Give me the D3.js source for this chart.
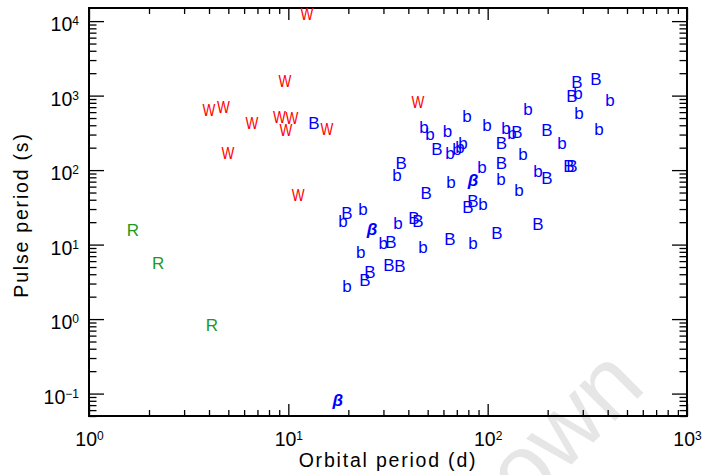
<!DOCTYPE html>
<html>
<head>
<meta charset="utf-8">
<script src="https://cdn.jsdelivr.net/npm/d3@7"></script>
<style>
body { margin: 0; background: #fff; }
svg { display: block; }
</style>
</head>
<body>
<script>

// orbital period (d) / pulse period (s), one pair of arrays per symbol
var windOrb   = [12.4, 9.62, 4.0, 4.73, 6.57, 9.03, 10.43, 9.73, 15.6, 4.98, 11.2, 44.7];
var windPulse = [12460, 1570, 641, 714, 436, 516, 501, 345, 362, 170, 46.3, 821];

var rocheOrb   = [1.66, 2.22, 4.14];
var rochePulse = [15.7, 5.66, 0.833];

var beOrb   = [13.45, 36.8, 19.7, 49.1, 42.7, 44.7, 32.7, 32.0, 36.3, 25.7, 24.2, 55.7, 84.4, 79.7,
               64.7, 111.4, 117.3, 117.3, 140.4, 198.5, 198.5, 255.9, 265.0, 178.9, 280.7, 349.6, 265.0];
var bePulse = [429, 124.6, 26.6, 49.3, 22.8, 20.7, 10.8, 5.32, 5.16, 4.29, 3.35, 192, 38.5, 32.0,
               11.9, 14.3, 231, 126.5, 325, 345, 78.3, 113.5, 113.5, 18.9, 1523, 1671, 988];

var beCandOrb   = [18.8, 23.7, 23.1, 19.7, 29.9, 35.5, 35.1, 47.4, 47.9, 51.4, 62.9, 78.8, 99.2, 64.7,
                   70.2, 72.6, 75.2, 65.5, 93.7, 94.8, 84.4, 116.7, 123.6, 132.5, 159.4, 150.4, 178.9,
                   143.7, 236, 284, 287.3, 361.9, 411.1];
var beCandPulse = [21.1, 30.1, 7.95, 2.78, 10.5, 19.5, 86.0, 9.29, 379, 305, 340, 532, 403, 170,
                   192, 204, 231, 69.2, 110, 35.1, 10.5, 76.0, 367, 320, 661, 165, 97.3,
                   54.1, 231, 1101, 584, 356, 873];

var betaOrb   = [26.3, 84.4, 17.7];
var betaPulse = [15.7, 71.4, 0.0795];

var xMajor = [1, 10, 100, 1000];
var yMajor = [0.1, 1, 10, 100, 1000, 10000];

var w = 703;
var h = 475;
var m = {l: 89, r: 687, t: 8, b: 416};
var font = "'Liberation Sans', Arial, sans-serif";

var x = d3.scaleLog().domain([1, 1000]).range([m.l, m.r]);
var y = d3.scaleLog().domain([0.05, 15000]).range([m.b, m.t]);

var xMinor = x.ticks().filter(function(d) { return xMajor.indexOf(d) < 0; });
var yMinor = y.ticks().filter(function(d) { return yMajor.indexOf(d) < 0; });

var svg = d3.select("body").append("svg")
    .attr("width", w)
    .attr("height", h);

// faint watermark fragment
svg.append("text")
    .attr("transform", "translate(586,450) rotate(-45)")
    .attr("text-anchor", "middle")
    .attr("font-family", font)
    .attr("font-size", 95)
    .attr("fill", "#e6e6e6")
    .text("own");

function powLabels(sel) {
    sel.selectAll(".tick text").each(function(d) {
        var t = d3.select(this);
        var e = Math.round(Math.log10(d));
        t.text(null);
        t.append("tspan").text("10");
        t.append("tspan").attr("dy", -6).attr("font-size", 12)
            .text(e < 0 ? "\u2212" + (-e) : e);
    });
}

function styleAxis(g) {
    g.select(".domain").remove();
    g.attr("font-family", font).attr("font-size", 19.5);
    g.selectAll("line").attr("stroke", "#000").attr("stroke-width", 1.3);
    g.selectAll("text").attr("fill", "#000");
}

// bottom
svg.append("g").attr("transform", "translate(0," + m.b + ")")
    .call(d3.axisBottom(x).tickValues(xMinor).tickSize(-6).tickFormat(""))
    .call(styleAxis);
svg.append("g").attr("transform", "translate(0," + m.b + ")")
    .call(d3.axisBottom(x).tickValues(xMajor).tickSize(-12).tickPadding(16))
    .call(styleAxis).call(powLabels);
// top
svg.append("g").attr("transform", "translate(0," + m.t + ")")
    .call(d3.axisTop(x).tickValues(xMinor).tickSize(-6).tickFormat(""))
    .call(styleAxis);
svg.append("g").attr("transform", "translate(0," + m.t + ")")
    .call(d3.axisTop(x).tickValues(xMajor).tickSize(-12).tickFormat(""))
    .call(styleAxis);
// left
svg.append("g").attr("transform", "translate(" + m.l + ",0)")
    .call(d3.axisLeft(y).tickValues(yMinor).tickSize(-7.5).tickFormat(""))
    .call(styleAxis);
var yl = svg.append("g").attr("transform", "translate(" + m.l + ",0)")
    .call(d3.axisLeft(y).tickValues(yMajor).tickSize(-15).tickPadding(10))
    .call(styleAxis).call(powLabels);
yl.selectAll(".tick text").attr("dy", "0.5em");
// right
svg.append("g").attr("transform", "translate(" + m.r + ",0)")
    .call(d3.axisRight(y).tickValues(yMinor).tickSize(-7.5).tickFormat(""))
    .call(styleAxis);
svg.append("g").attr("transform", "translate(" + m.r + ",0)")
    .call(d3.axisRight(y).tickValues(yMajor).tickSize(-15).tickFormat(""))
    .call(styleAxis);

svg.append("rect")
    .attr("x", m.l).attr("y", m.t)
    .attr("width", m.r - m.l).attr("height", m.b - m.t)
    .attr("fill", "none").attr("stroke", "#000").attr("stroke-width", 2);

// axis titles
svg.append("text")
    .attr("x", (m.l + m.r) / 2).attr("y", 467)
    .attr("text-anchor", "middle")
    .attr("font-family", font).attr("font-size", 19.5)
    .attr("letter-spacing", 1.8)
    .text("Orbital period (d)");

svg.append("text")
    .attr("transform", "translate(28,215) rotate(-90)")
    .attr("text-anchor", "middle")
    .attr("font-family", font).attr("font-size", 19.5)
    .attr("letter-spacing", 1.8)
    .text("Pulse period (s)");

// symbols (W drawn a little narrower, as in the original plot font)
var sets = [
    {orb: windOrb, pulse: windPulse, sym: "W", color: "#ff0000", dy: 6.1, sx: 0.8},
    {orb: rocheOrb, pulse: rochePulse, sym: "R", color: "#1f991f", dy: 6.1, sx: 1},
    {orb: beOrb, pulse: bePulse, sym: "B", color: "#0000ff", dy: 6.1, sx: 1},
    {orb: beCandOrb, pulse: beCandPulse, sym: "b", color: "#0000ff", dy: 6.1, sx: 1},
    {orb: betaOrb, pulse: betaPulse, sym: "\u03b2", color: "#0000ff", dy: 4.8, sx: 1, bold: true}
];

sets.forEach(function(s) {
    svg.append("g")
        .attr("font-family", font)
        .attr("font-size", 17)
        .attr("font-style", s.bold ? "italic" : null)
        .attr("font-weight", s.bold ? "bold" : null)
        .attr("fill", s.color)
        .selectAll("text")
        .data(d3.zip(s.orb, s.pulse))
        .enter().append("text")
        .attr("transform", function(d) {
            return "translate(" + x(d[0]) + "," + y(d[1]) + ") scale(" + s.sx + ",1)";
        })
        .attr("dy", s.dy)
        .attr("text-anchor", "middle")
        .text(s.sym);
});

</script>
</body>
</html>
